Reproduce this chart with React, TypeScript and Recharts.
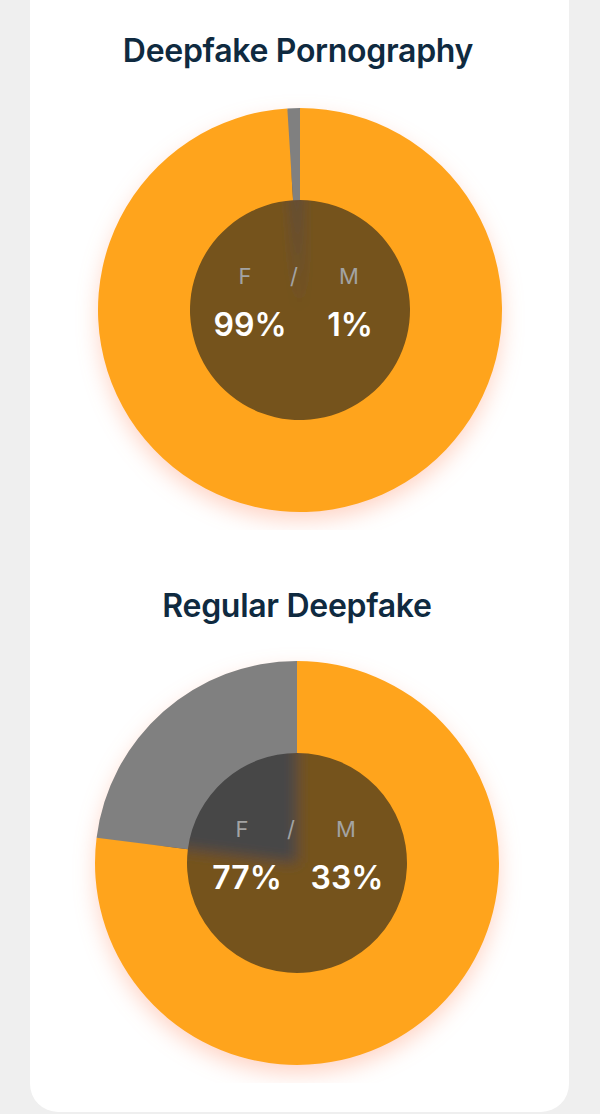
import React from "react";
import { PieChart, Pie, Cell } from "recharts";

const titles = ["Deepfake Pornography", "Regular Deepfake"];
const female = [99, 77];
const male = [1, 23];
const femaleLabels = ["99%", "77%"];
const maleLabels = ["1%", "33%"];

const ORANGE = "#FFA41C";
const GRAY = "#808080";
const DARK_ORANGE = "#74521C";
const DARK_GRAY = "#464646";

const FONT = "Inter, 'Noto Sans', sans-serif";

function Donut({ index, cx }: { index: number; cx: number }) {
  const data = [
    { name: "F", value: female[index] },
    { name: "M", value: male[index] },
  ];
  const disc = [{ name: "disc", value: 1 }];
  const cy = 220;
  return (
    <div style={{ position: "relative", width: 600, height: 440 }}>
      <PieChart width={600} height={440} margin={{ top: 0, right: 0, bottom: 0, left: 0 }}>
        <defs>
          <filter id={`soft${index}`} x="-30%" y="-30%" width="160%" height="160%">
            <feGaussianBlur stdDeviation="7" />
          </filter>
        </defs>
        {/* glow behind the whole donut */}
        <Pie data={disc} dataKey="value" cx={cx} cy={cy} outerRadius={201} stroke="none" className="glow-disc" isAnimationActive={false}>
          <Cell fill={ORANGE} />
        </Pie>
        <Pie data={disc} dataKey="value" cx={cx} cy={cy} outerRadius={112} stroke="none" isAnimationActive={false}>
          <Cell fill={DARK_ORANGE} />
        </Pie>
        <Pie
          data={data}
          dataKey="value"
          cx={cx}
          cy={cy}
          outerRadius={135}
          startAngle={90}
          endAngle={-270}
          stroke="none"
          className={`inner-soft-${index}`}
          isAnimationActive={false}
        >
          <Cell fill={DARK_ORANGE} />
          <Cell fill={DARK_GRAY} />
        </Pie>
        <Pie
          data={data}
          dataKey="value"
          cx={cx}
          cy={cy}
          innerRadius={110}
          outerRadius={202}
          startAngle={90}
          endAngle={-270}
          stroke="none"
          isAnimationActive={false}
        >
          <Cell fill={ORANGE} />
          <Cell fill={GRAY} />
        </Pie>
      </PieChart>
      <div style={{ position: "absolute", left: 0, top: 0, width: 600, height: 440, pointerEvents: "none", fontFamily: FONT }}>
        <span style={{ position: "absolute", left: cx - 55, top: cy - 26, transform: "translate(-50%, -80%)", fontSize: 22, color: "#a3a3a3" }}>F</span>
        <span style={{ position: "absolute", left: cx - 6, top: cy - 26, transform: "translate(-50%, -80%)", fontSize: 22, color: "#a3a3a3" }}>/</span>
        <span style={{ position: "absolute", left: cx + 49, top: cy - 26, transform: "translate(-50%, -80%)", fontSize: 22, color: "#a3a3a3" }}>M</span>
        <span style={{ position: "absolute", left: cx - 50, top: cy + 26, transform: "translate(-50%, -80%)", fontSize: 32, fontWeight: 600, color: "#ffffff" }}>{femaleLabels[index]}</span>
        <span style={{ position: "absolute", left: cx + 50, top: cy + 26, transform: "translate(-50%, -80%)", fontSize: 32, fontWeight: 600, color: "#ffffff" }}>{maleLabels[index]}</span>
      </div>
    </div>
  );
}

export default function App() {
  return (
    <div style={{ position: "absolute", left: 0, top: 0, width: 600, height: 1114, background: "#efefef", overflow: "hidden", fontFamily: FONT }}>
      <style>{`
        .recharts-pie.glow-disc { filter: drop-shadow(0px 9px 11px rgba(255, 110, 60, 0.3)); }
        .recharts-pie.inner-soft-0 { filter: url(#soft0); }
        .recharts-pie.inner-soft-1 { filter: url(#soft1); }
      `}</style>
      <div style={{ position: "absolute", left: 30, top: -30, width: 539, height: 1142, background: "#ffffff", borderRadius: 28 }} />
      <div style={{ position: "absolute", left: 0, width: 596, top: 31, textAlign: "center", fontSize: 32, fontWeight: 600, color: "#0f2a40", letterSpacing: -0.3 }}>
        {titles[0]}
      </div>
      <div style={{ position: "absolute", left: 0, top: 90 }}>
        <Donut index={0} cx={300} />
      </div>
      <div style={{ position: "absolute", left: 0, width: 594, top: 586, textAlign: "center", fontSize: 32, fontWeight: 600, color: "#0f2a40", letterSpacing: -0.3 }}>
        {titles[1]}
      </div>
      <div style={{ position: "absolute", left: 0, top: 643 }}>
        <Donut index={1} cx={297} />
      </div>
    </div>
  );
}
